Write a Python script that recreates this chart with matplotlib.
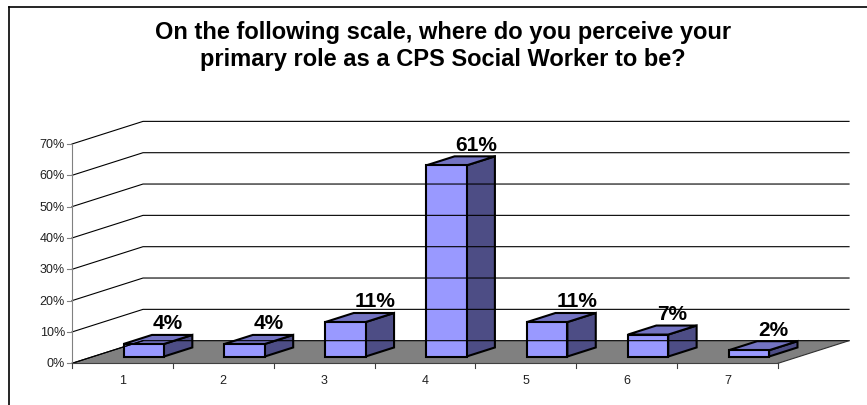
import matplotlib.pyplot as plt
from matplotlib.patches import Polygon

plt.rcParams['font.family'] = ['Liberation Sans', 'DejaVu Sans']

categories = ['1', '2', '3', '4', '5', '6', '7']
percents = [4, 4, 11, 61, 11, 7, 2]
labels = ['4%', '4%', '11%', '61%', '11%', '7%', '2%']
yticks = [0, 10, 20, 30, 40, 50, 60, 70]
titleLines = ['On the following scale, where do you perceive your',
              'primary role as a CPS Social Worker to be?']

# 3d look: how far the back wall is shifted (category units, percent units)
depthX = 0.704
depthY = 7.22
barHalf = 0.2
barD0 = 0.3
barD1 = 0.7

fig = plt.figure(figsize=(8.67, 4.06), dpi=100)
ax = fig.add_axes([0, 0, 1, 1])
ax.set_xlim(-0.714, 7.882)
ax.set_ylim(-13.31, 116.28)
ax.axis('off')

n = len(categories)

# gridlines on side wall and back wall
for v in yticks:
    ax.plot([0, depthX, n + depthX], [v, v + depthY, v + depthY], color='black', lw=0.8)

# floor
ax.add_patch(Polygon([(0, 0), (n, 0), (n + depthX, depthY), (depthX, depthY)],
                     closed=True, facecolor='#808080', edgecolor='none'))
ax.plot([0, depthX], [0, depthY], color='black', lw=0.8)
ax.plot([n, n + depthX], [0, depthY], color='#303030', lw=0.8)
ax.plot([0, n], [0, 0], color='#404040', lw=0.8)

# y axis with ticks and labels
ax.plot([0, 0], [0, yticks[-1]], color='#808080', lw=0.8)
for v in yticks:
    ax.plot([-0.05, 0], [v, v], color='#808080', lw=0.8)
    ax.text(-0.07, v, '%d%%' % v, ha='right', va='center', fontsize=9, color='#202020')

# x axis ticks and labels
for k in range(n + 1):
    ax.plot([k, k], [0, -1.6], color='#404040', lw=0.8)
for i, c in enumerate(categories):
    ax.text(i + 0.5, -5.2, c, ha='center', va='center', fontsize=9, color='#202020')

# bars
for i, v in enumerate(percents):
    x0 = i + 0.5 - barHalf + barD0 * depthX
    x1 = i + 0.5 + barHalf + barD0 * depthX
    y0 = barD0 * depthY
    y1 = v + barD0 * depthY
    ddx = (barD1 - barD0) * depthX
    ddy = (barD1 - barD0) * depthY
    front = [(x0, y0), (x1, y0), (x1, y1), (x0, y1)]
    side = [(x1, y0), (x1 + ddx, y0 + ddy), (x1 + ddx, y1 + ddy), (x1, y1)]
    top = [(x0, y1), (x1, y1), (x1 + ddx, y1 + ddy), (x0 + ddx, y1 + ddy)]
    for pts, col in [(side, '#4D4D85'), (top, '#7373C2'), (front, '#9999FF')]:
        ax.add_patch(Polygon(pts, closed=True, facecolor=col, edgecolor='black',
                             lw=1.5, joinstyle='miter'))
    ax.text(x0 + 0.29, y1 + 5.0, labels[i], ha='left', va='baseline',
            fontsize=15, fontweight='bold')

fig.text(443 / 867, 1 - 38.5 / 406, titleLines[0], ha='center', va='baseline',
         fontsize=17, fontweight='bold')
fig.text(443 / 867, 1 - 66.5 / 406, titleLines[1], ha='center', va='baseline',
         fontsize=17, fontweight='bold')

# chart border
fig.add_artist(plt.Line2D([9 / 867, 9 / 867], [0, 1 - 8 / 406], color='black', lw=1.2))
fig.add_artist(plt.Line2D([9 / 867, 1], [1 - 8 / 406, 1 - 8 / 406], color='black', lw=1.2))

fig.savefig('out.png', dpi=100)
